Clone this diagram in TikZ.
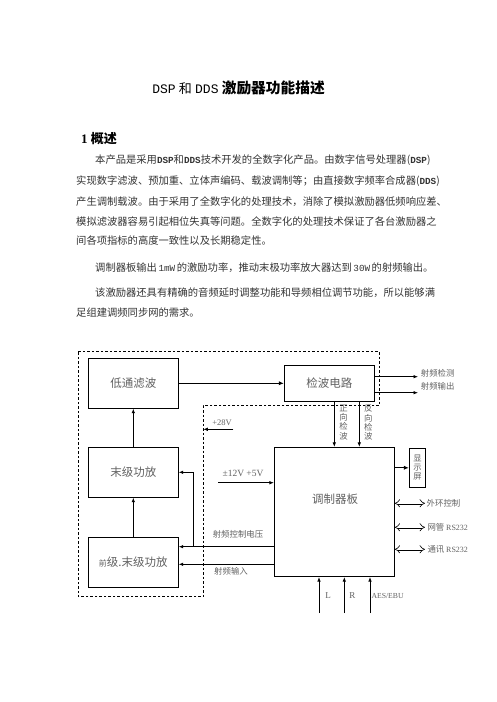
\documentclass[tikz,border=0pt]{standalone}
\usepackage{fontspec}
\setmainfont{Liberation Serif}
\newfontfamily\cjk{Noto Sans CJK SC}
\newfontfamily\mono{Liberation Mono}
\usepackage{xcolor}
\usetikzlibrary{arrows.meta,calc}

\XeTeXlinebreaklocale "zh"
\XeTeXlinebreakskip=0pt plus 1pt minus 0.3pt

\definecolor{txtgray}{gray}{0.2}
\definecolor{lblgray}{gray}{0.38}

\begin{document}
\begin{tikzpicture}[
    x=1pt, y=-1pt,
    block/.style={draw, line width=0.8pt, inner sep=0pt, text=lblgray,
                  font=\cjk\fontsize{11.5}{12}\selectfont},
    arr/.style={-{Latex[length=4.5pt,width=3.6pt]}, line width=0.8pt},
    heavy/.style={-{Latex[length=5pt,width=4.2pt]}, line width=1.6pt},
    dblarr/.style={double, double distance=2.2pt, line width=0.6pt,
                   {Implies}-{Implies}},
    lbl/.style={inner sep=0pt, text=lblgray, font=\cjk\fontsize{8.4}{9.2}\selectfont},
    latin/.style={inner sep=0pt, text=lblgray, font=\fontsize{8.5}{9}\selectfont},
    body/.style={anchor=west, inner sep=0pt, text=txtgray,
                 font=\cjk\fontsize{10.3}{12}\selectfont}
]

\useasboundingbox (0,0) rectangle (496,702);

% -------------------------------------------------
% Heading and text
% -------------------------------------------------

\node (title) at (238.5,88)
  {\fontsize{13}{15}\selectfont{\mono DSP} {\cjk 和} {\mono DDS}
   {\cjk\bfseries\fontsize{14.7}{16}\selectfont 激励器功能描述}};

\node[anchor=west, inner sep=0pt] (sec) at (81,139)
  {\fontsize{13}{15}\selectfont\bfseries 1 {\cjk\bfseries 概述}};

\node[body] (t1) at (95,160)
  {\makebox[335pt][s]{本产品是采用{\mono\bfseries\fontsize{9.3}{12}\selectfont DSP}和{\mono\bfseries\fontsize{9.3}{12}\selectfont DDS}技术开发的全数字化产品。由数字信号处理器({\mono\bfseries\fontsize{9.3}{12}\selectfont DSP})}};
\node[body] (t2) at (76,181)
  {\makebox[360pt][s]{实现数字滤波、预加重、立体声编码、载波调制等；由直接数字频率合成器({\mono\bfseries\fontsize{9.3}{12}\selectfont DDS})}};
\node[body] (t3) at (76,202)
  {\makebox[360pt][s]{产生调制载波。由于采用了全数字化的处理技术，消除了模拟激励器低频响应差、}};
\node[body] (t4) at (76,222)
  {\makebox[360pt][s]{模拟滤波器容易引起相位失真等问题。全数字化的处理技术保证了各台激励器之}};
\node[body] (t5) at (76,241)
  {间各项指标的高度一致性以及长期稳定性。};

\node[body] (t6) at (95,268)
  {\makebox[337pt][s]{调制器板输出 {\mono\fontsize{9.3}{12}\selectfont 1mW} 的激励功率，推动末极功率放大器达到 {\mono\fontsize{9.3}{12}\selectfont 30W} 的射频输出。}};

\node[body] (t7) at (95,293)
  {\makebox[341pt][s]{该激励器还具有精确的音频延时调整功能和导频相位调节功能，所以能够满}};
\node[body] (t8) at (76,313)
  {足组建调频同步网的需求。};

% -------------------------------------------------
% Power amplifier unit (dashed outline)
% -------------------------------------------------

\draw[line width=0.8pt, dash pattern=on 2.5pt off 2pt]
  (78.3,351.7) -- (379.3,351.7) -- (379.3,405.7) -- (203.3,405.7)
  -- (203.3,596.7) -- (78.3,596.7) -- cycle;

\node[block, minimum width=90pt, minimum height=50pt]
  (lpf) at (133.3,383.3) {低通滤波};
\node[block, minimum width=90pt, minimum height=50pt]
  (pa) at (133.3,472.3) {末级功放};
\node[block, minimum width=90pt, minimum height=50pt]
  (prepa) at (133.3,562.3) {{\fontsize{8}{8}\selectfont 前}级.末级功放};
\node[block, minimum width=90pt, minimum height=36.7pt]
  (det) at (329.3,383.3) {检波电路};

\draw[arr] (prepa) -- (pa);
\draw[arr] (pa) -- (lpf);
\draw[heavy] (lpf) -- (det);

% detector outputs
\coordinate (rfdet) at (418,376.7);
\coordinate (rfout) at (418,392.7);
\draw[arr] (det.east |- rfdet) -- (rfdet);
\draw[arr] (det.east |- rfout) -- (rfout);
\node[lbl, anchor=west] (rfdetl) at (420.7,373.3) {射频检测};
\node[lbl, anchor=west] (rfoutl) at (420.7,386.3) {射频输出};

% -------------------------------------------------
% Modulator board
% -------------------------------------------------

\node[block, minimum width=120pt, minimum height=129.4pt]
  (mod) at (334.3,512) {};
\node[block, draw=none] (modl) at (335,499.3) {调制器板};

\node[block, minimum width=16.4pt, minimum height=39pt, align=center,
      font=\cjk\fontsize{8.3}{9}\selectfont]
  (disp) at (417.5,467.8) {显\\示\\屏};
\draw[heavy, line width=1.3pt] (mod.east |- disp.west) -- (disp.west);

\draw[arr] (det.south -| mod.north) -- (mod.north);
\draw[arr] ([xshift=25pt]det.south -| mod.north) -- ([xshift=25pt]mod.north);
\node[lbl, align=center] (fwd) at (343.5,422.5) {正\\向\\检\\波};
\node[lbl, align=center] (rev) at (368.3,422.5) {反\\向\\检\\波};

% interfaces
\coordinate (ctl) at (425,503.3);
\coordinate (nms) at (425,527.3);
\coordinate (com) at (425,549.3);
\draw[dblarr] (mod.east |- ctl) -- (ctl);
\draw[dblarr] (mod.east |- nms) -- (nms);
\draw[dblarr] (mod.east |- com) -- (com);
\node[lbl, anchor=west] (ctll) at (426.5,503.3) {外环控制};
\node[lbl, anchor=west] (nmsl) at (427.3,526.8)
  {网管 {\rmfamily\fontsize{8}{9}\selectfont RS232}};
\node[lbl, anchor=west] (coml) at (427.3,549.3)
  {通讯 {\rmfamily\fontsize{8}{9}\selectfont RS232}};

% supplies
\coordinate (p28) at (233.3,429.3);
\coordinate (p28in) at (203.3,429.3);
\draw[arr] (p28) -- (p28in);
\node[latin] (p28l) at (222,422.7) {+28V};

\coordinate (psup) at (218.3,482.7);
\draw[arr] (psup) -- (mod.west |- psup);
\node[latin, font=\fontsize{9.5}{10}\selectfont] (psupl) at (243,473.5) {±12V +5V};

% RF control voltage and RF input
\coordinate (rfc) at (274.3,546.7);
\coordinate (rfcb) at (193.3,546.7);
\coordinate (rfin) at (274.3,564.3);
\draw[arr] (rfc) -- (prepa.east |- rfc);
\draw[arr] (rfcb) |- (pa.east);
\draw[arr] (rfin) -- (prepa.east |- rfin);
\node[lbl] (rfcl) at (238,534.3) {射频控制电压};
\node[lbl] (rfinl) at (231,571.7) {射频输入};

% audio inputs
\coordinate (lin) at (319,613);
\coordinate (rin) at (344.3,613);
\coordinate (aes) at (370,613);
\draw[arr] (lin) -- (lin |- mod.south);
\draw[arr] (rin) -- (rin |- mod.south);
\draw[arr] (aes) -- (aes |- mod.south);
\node[latin, font=\fontsize{9}{10}\selectfont] (linl) at (328,595.5) {L};
\node[latin, font=\fontsize{9}{10}\selectfont] (rinl) at (352.3,595.5) {R};
\node[latin, anchor=west, font=\fontsize{7.7}{9}\selectfont] (aesl) at (371.3,595.5) {AES/EBU};

\end{tikzpicture}
\end{document}
